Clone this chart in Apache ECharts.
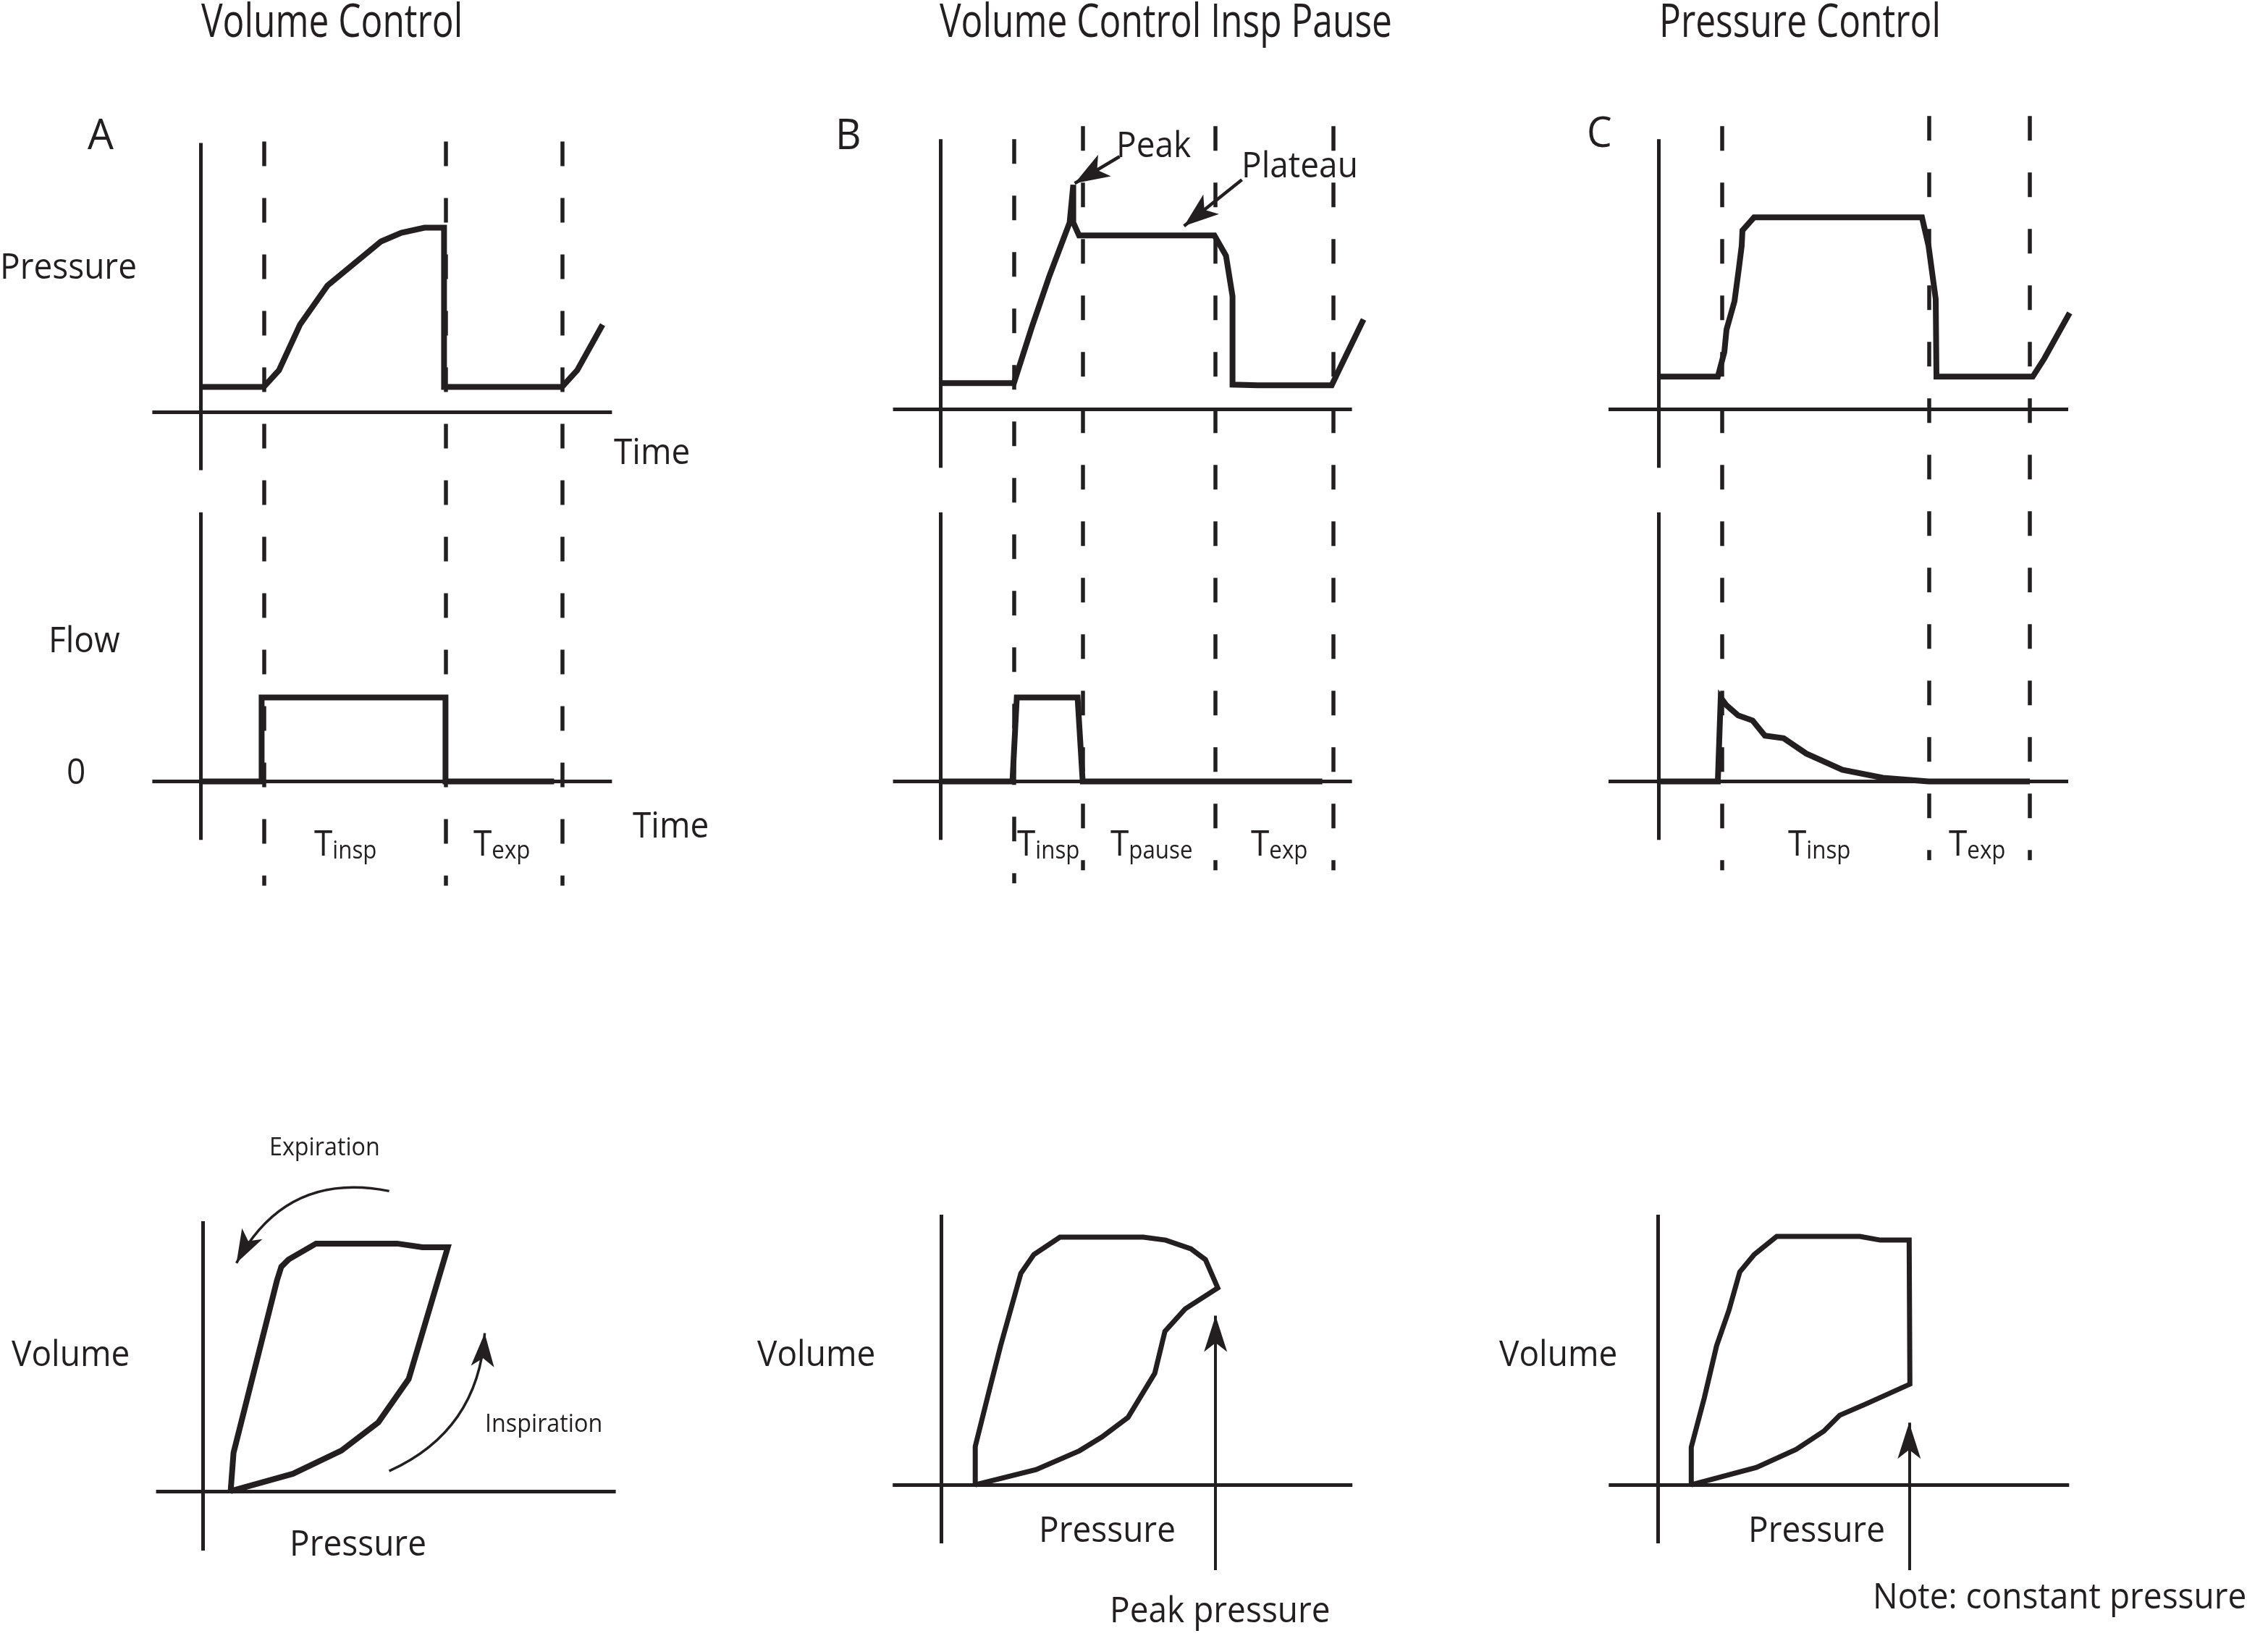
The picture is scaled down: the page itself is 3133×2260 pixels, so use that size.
<!DOCTYPE html>
<html><head><meta charset="utf-8">
<script src="https://cdn.jsdelivr.net/npm/echarts@6/dist/echarts.min.js"></script>
<style>html,body{margin:0;padding:0;background:#fff}#chart{width:3133px;height:2260px}</style>
</head><body><div id="chart"></div>
<script>
// ================= DATA =================
// time in s, pressure in cmH2O, flow in L/min, volume in mL (schematic units)

// ---- Panel A : Volume Control ----
const A_pressTime = [0, 0.87, 1.08, 1.37, 1.75, 2.49, 2.77, 3.09, 3.36, 3.36, 4.99, 5.20, 5.55];
const A_pressVal  = [3.5, 3.5, 5.8, 12.1, 17.5, 23.6, 24.8, 25.5, 25.5, 3.5, 3.5, 5.8, 12.1];
const A_flowTime  = [0, 0.84, 0.84, 3.38, 3.38, 4.88];
const A_flowVal   = [0, 0, 58, 58, 0, 0];
const A_phaseTimes = [0.87, 3.38, 4.99];
const A_phaseTop    = [37.4, 37.4, 37.4];
const A_phaseBottom = [-65.4, -65.4, -65.4];
const A_loopPress = [3.8, 4.2, 10.2, 10.8, 11.8, 15.6, 26.8, 30.3, 33.8, 28.4, 24.2, 19.1, 12.4, 3.8];
const A_loopVol   = [0, 53, 291, 310, 320, 342, 342, 337, 337, 155, 95, 56, 24, 0];

// ---- Panel B : Volume Control with inspiratory pause ----
const B_pressTime = [0, 1.01, 1.26, 1.50, 1.78, 1.83, 1.83, 1.91, 3.78, 3.94, 4.03, 4.03, 4.38, 5.40, 5.50, 5.84];
const B_pressVal  = [3.6, 3.6, 11.4, 18.4, 25.8, 31.0, 25.8, 24.0, 24.0, 21.2, 15.6, 3.4, 3.3, 3.3, 5.4, 12.4];
const B_flowTime  = [0, 0.99, 1.05, 1.89, 1.96, 5.27];
const B_flowVal   = [0, 0, 58, 58, 0, 0];
const B_phaseTimes = [1.01, 1.96, 3.79, 5.42];
const B_phaseTop    = [37.3, 39.1, 39.1, 39.1];
const B_phaseBottom = [-65.5, -63.7, -63.7, -63.7];
const B_loopPress = [4.7, 4.7, 6.5, 8.2, 11.0, 12.8, 16.4, 27.9, 31.0, 34.5, 36.5, 38.2, 33.7, 30.9, 29.5, 25.8, 22.2, 19.1, 13.1, 4.7];
const B_loopVol   = [0, 53, 125, 192, 292, 318, 342, 342, 338, 326, 311, 272, 243, 212, 154, 93, 66, 47, 21, 0];

// ---- Panel C : Pressure Control ----
const C_pressTime = [0, 0.82, 0.91, 0.94, 1.05, 1.11, 1.15, 1.16, 1.32, 3.64, 3.73, 3.83, 3.84, 3.95, 5.17, 5.33, 5.68];
const C_pressVal  = [4.5, 4.5, 7.9, 11.0, 14.9, 19.4, 22.6, 24.7, 26.5, 26.5, 22.6, 15.2, 4.5, 4.5, 4.5, 7.0, 13.3];
const C_flowTime  = [0, 0.82, 0.86, 0.94, 1.10, 1.30, 1.47, 1.73, 2.04, 2.54, 3.10, 3.73, 5.13];
const C_flowVal   = [0, 0, 57.9, 52.6, 45.6, 42.1, 31.6, 29.8, 19.3, 8.1, 2.5, 0, 0];
const C_phaseTimes = [0.88, 3.74, 5.13];
const C_phaseTop    = [39.1, 40.5, 40.5];
const C_phaseBottom = [-63.7, -62.3, -62.3];
const C_loopPress = [4.6, 4.6, 6.4, 8.1, 9.8, 11.3, 13.3, 16.4, 27.9, 30.7, 34.7, 34.8, 28.8, 25.1, 22.9, 19.1, 13.6, 4.6];
const C_loopVol   = [0, 52, 120, 192, 241, 294, 318, 343, 343, 338, 338, 139, 112, 96, 74, 49, 24, 0];

// axis extents drawn as cross-hair axes (time, pressure, flow / loop pressure, volume)
const A_axes = {time: [-0.67, 5.68], press: [-8.0, 37.2], flow: [-40.4, 185.9], lpress: [-6.5, 57.0], vol: [-82, 373]};
const B_axes = {time: [-0.66, 5.68], press: [-8.1, 37.3], flow: [-40.4, 185.9], lpress: [-6.7, 56.8], vol: [-81, 373]};
const C_axes = {time: [-0.69, 5.66], press: [-8.1, 37.3], flow: [-40.4, 185.9], lpress: [-6.8, 56.8], vol: [-81, 373]};

// annotation arrows: [tail, tip]
const B_peakArrow    = [[2.47, 34.9], [1.85, 31.2]];
const B_plateauArrow = [[4.16, 31.7], [3.36, 25.3]];
const A_expArrow     = [[25.7, 414.5], [4.6, 315.1]];
const A_inspArrow    = [[25.7, 27.7], [38.9, 218.2]];
const B_peakPressArrow  = [[37.9, -118], [37.9, 233.6]];
const C_constPressArrow = [[34.7, -118], [34.7, 85.8]];

// ================= LAYOUT / STYLE =================
const INK = '#231f20';
const FAM = '"Open Sans", "Noto Sans", sans-serif';
const L = [
  {x0: 277.4, yP: 569.5, yF: 1079.5, pvX: 280.6, pvY: 2059.9},
  {x0: 1299.6, yP: 565.3, yF: 1079.5, pvX: 1300.2, pvY: 2051.1},
  {x0: 2291.0, yP: 565.3, yF: 1079.5, pvX: 2290.3, pvY: 2051.1}
];
const PX_T = 100, PX_P = 10, PX_F = 2, PX_LP = 10, PX_V = 1;
const TOP_T = 150, BOT_T = 1250, TOP_V = 1600, BOT_V = 2250;

const zip = (a, b) => a.map((v, i) => [v, b[i]]);

const grid = [], xAxis = [], yAxis = [], series = [];
const panels = [
  {pt: A_pressTime, pv: A_pressVal, ft: A_flowTime, fv: A_flowVal, ph: A_phaseTimes, phT: A_phaseTop, phB: A_phaseBottom, lp: A_loopPress, lv: A_loopVol, ax: A_axes},
  {pt: B_pressTime, pv: B_pressVal, ft: B_flowTime, fv: B_flowVal, ph: B_phaseTimes, phT: B_phaseTop, phB: B_phaseBottom, lp: B_loopPress, lv: B_loopVol, ax: B_axes},
  {pt: C_pressTime, pv: C_pressVal, ft: C_flowTime, fv: C_flowVal, ph: C_phaseTimes, phT: C_phaseTop, phB: C_phaseBottom, lp: C_loopPress, lv: C_loopVol, ax: C_axes}
];

function curve(data, xi, yi, w) {
  return {type: 'line', xAxisIndex: xi, yAxisIndex: yi, data: data, symbol: 'none', showSymbol: false,
    clip: false, silent: true, animation: false, z: 5,
    lineStyle: {color: INK, width: w, join: 'miter', miterLimit: 3, cap: 'butt'}};
}
function segs(list, xi, yi, w, type, z) {
  return {type: 'lines', coordinateSystem: 'cartesian2d', xAxisIndex: xi, yAxisIndex: yi,
    data: list.map(c => ({coords: c})), symbol: ['none', 'none'], silent: true, animation: false, z: z || 3,
    lineStyle: {color: INK, width: w, type: type || 'solid', opacity: 1, cap: 'butt', curveness: 0}};
}
function arrows(list, xi, yi, w) {
  return {type: 'lines', coordinateSystem: 'cartesian2d', xAxisIndex: xi, yAxisIndex: yi,
    symbol: ['none', 'arrow'], silent: true, animation: false, z: 6,
    data: list.map(a => ({coords: a.c, symbolSize: [1, a.s], lineStyle: {curveness: a.k || 0}})),
    lineStyle: {color: INK, width: w, opacity: 1, cap: 'butt'}};
}

panels.forEach((p, i) => {
  const l = L[i];
  grid.push({left: l.x0 - 1 * PX_T, top: TOP_T, width: 8 * PX_T, height: BOT_T - TOP_T});
  grid.push({left: l.pvX - 10 * PX_LP, top: TOP_V, width: 80 * PX_LP, height: BOT_V - TOP_V});
  const gT = 2 * i, gV = 2 * i + 1;
  const xT = xAxis.length; xAxis.push({type: 'value', gridIndex: gT, min: -1, max: 7, show: false});
  const xV = xAxis.length; xAxis.push({type: 'value', gridIndex: gV, min: -10, max: 70, show: false});
  const yP = yAxis.length; yAxis.push({type: 'value', gridIndex: gT, show: false,
    min: (l.yP - BOT_T) / PX_P, max: (l.yP - TOP_T) / PX_P});
  const yF = yAxis.length; yAxis.push({type: 'value', gridIndex: gT, show: false,
    min: (l.yF - BOT_T) / PX_F, max: (l.yF - TOP_T) / PX_F});
  const yV = yAxis.length; yAxis.push({type: 'value', gridIndex: gV, show: false,
    min: (l.pvY - BOT_V) / PX_V, max: (l.pvY - TOP_V) / PX_V});

  series.push(segs([[[p.ax.time[0], 0], [p.ax.time[1], 0]], [[0, p.ax.press[0]], [0, p.ax.press[1]]]], xT, yP, 5));
  series.push(segs([[[p.ax.time[0], 0], [p.ax.time[1], 0]], [[0, p.ax.flow[0]], [0, p.ax.flow[1]]]], xT, yF, 5));
  series.push(segs([[[p.ax.lpress[0], 0], [p.ax.lpress[1], 0]], [[0, p.ax.vol[0]], [0, p.ax.vol[1]]]], xV, yV, 5));
  series.push(segs(p.ph.map((t, k) => [[t, p.phT[k]], [t, p.phB[k]]]), xT, yP, 5.5, [34, 44], 2));
  series.push(curve(zip(p.pt, p.pv), xT, yP, 8));
  series.push(curve(zip(p.ft, p.fv), xT, yF, 8));
  series.push(curve(zip(p.lp, p.lv), xV, yV, i === 0 ? 8 : 7));
  if (i === 0) {
    series.push(arrows([{c: A_expArrow, s: [24, 46], k: -0.37}, {c: A_inspArrow, s: [24, 46], k: -0.3}], xV, yV, 3.5));
  }
  if (i === 1) {
    series.push(arrows([{c: B_peakArrow, s: [26, 48]}, {c: B_plateauArrow, s: [26, 48]}], xT, yP, 4.5));
    series.push(arrows([{c: B_peakPressArrow, s: [24, 50]}], xV, yV, 4));
  }
  if (i === 2) {
    series.push(arrows([{c: C_constPressArrow, s: [24, 50]}], xV, yV, 4));
  }
});

// ================= TEXT =================
function txt(s, x, y, size, sx) {
  return {type: 'text', x: x, y: y, scaleX: sx || 1, silent: true, z: 10,
    style: {text: s, font: size + 'px ' + FAM, fontSize: size, fontFamily: FAM, fill: INK,
      textAlign: 'left', align: 'left', textVerticalAlign: 'middle', verticalAlign: 'middle'}};
}
function tsub(sub, x) {
  return {type: 'text', x: x, y: 1168, scaleX: 0.92, silent: true, z: 10,
    style: {text: '{a|T}{b|' + sub + '}', fill: INK, textAlign: 'left', align: 'left',
      textVerticalAlign: 'middle', verticalAlign: 'middle',
      rich: {a: {fontSize: 50, fontFamily: FAM, lineHeight: 50, verticalAlign: 'bottom', fill: INK},
             b: {fontSize: 34, fontFamily: FAM, lineHeight: 34, verticalAlign: 'bottom', fill: INK}}}};
}
const S = 50, SX = 0.92;
const graphic = [
  txt('Volume Control', 278, 33, 64, 0.776),
  txt('Volume Control Insp Pause', 1298, 33, 64, 0.776),
  txt('Pressure Control', 2292, 33, 64, 0.776),
  txt('A', 121, 189, 58, 0.98), txt('B', 1154, 189, 58, 0.95), txt('C', 2192, 186, 58, 0.95),
  txt('Pressure', 0, 371, S, SX), txt('Time', 848, 627, S, SX),
  txt('Flow', 67, 887, S, SX), txt('0', 92, 1069, S, SX), txt('Time', 874, 1143, S, SX),
  txt('Peak', 1542, 203, S, SX), txt('Plateau', 1715, 231, S, SX),
  tsub('insp', 434), tsub('exp', 654),
  tsub('insp', 1405), tsub('pause', 1534), tsub('exp', 1728),
  tsub('insp', 2470), tsub('exp', 2692),
  txt('Expiration', 372, 1586, 34, 0.95), txt('Inspiration', 670, 1968, 34, 0.95),
  txt('Volume', 16, 1873, S, SX), txt('Volume', 1046, 1873, S, SX), txt('Volume', 2071, 1873, S, SX),
  txt('Pressure', 400, 2135, S, SX), txt('Pressure', 1435, 2116, S, SX), txt('Pressure', 2415, 2116, S, SX),
  txt('Peak pressure', 1533, 2227, S, SX), txt('Note: constant pressure', 2587, 2208, S, SX)
];

const chart = echarts.init(document.getElementById('chart'), null, {renderer: 'canvas'});
chart.setOption({
  backgroundColor: '#ffffff', animation: false,
  grid: grid, xAxis: xAxis, yAxis: yAxis, series: series, graphic: graphic
});
</script></body></html>
